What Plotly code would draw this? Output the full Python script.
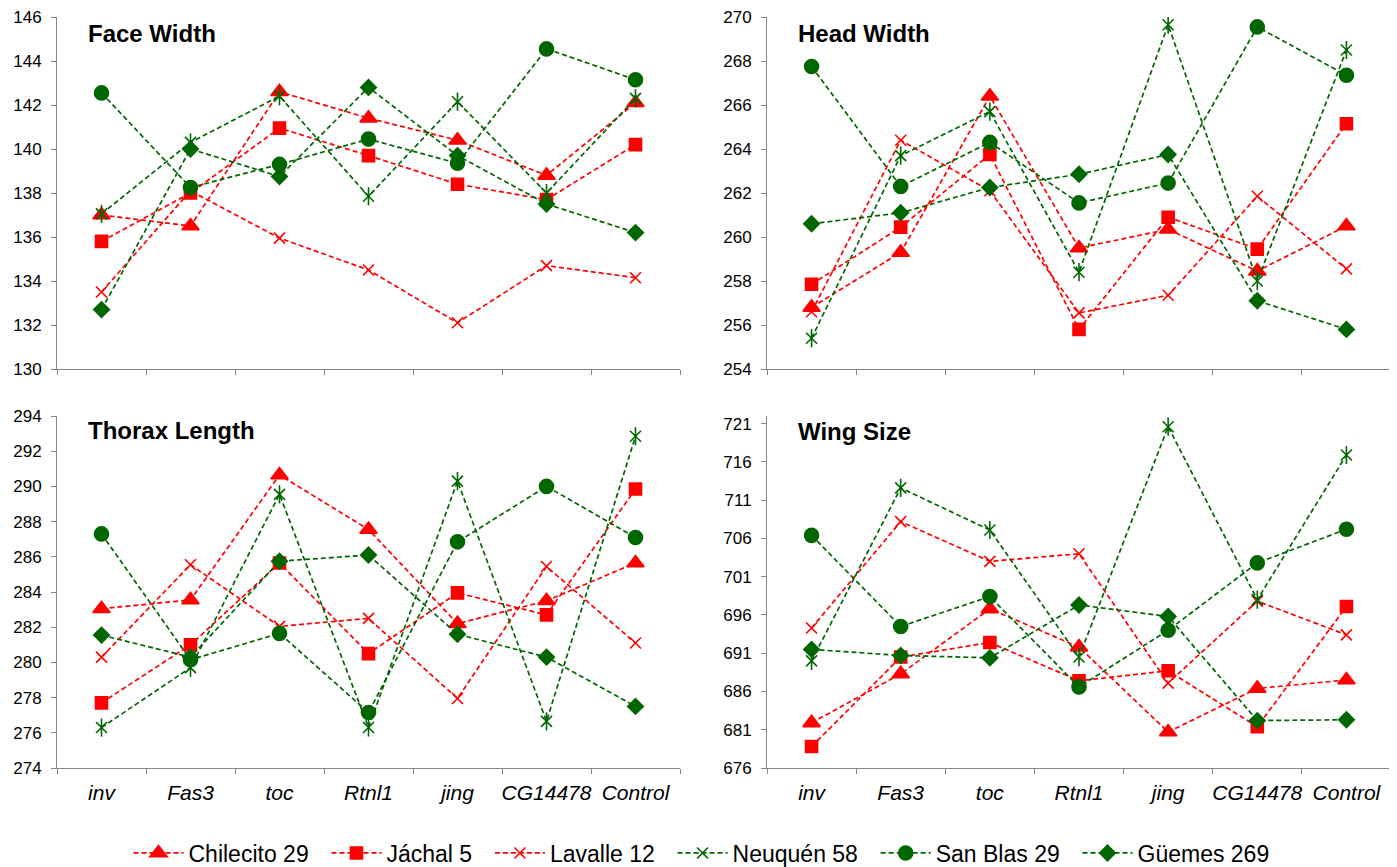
import plotly.graph_objects as go

categories = ["inv", "Fas3", "toc", "Rtnl1", "jing", "CG14478", "Control"]
series_names = ["Chilecito 29", "Jáchal 5", "Lavalle 12", "Neuquén 58", "San Blas 29", "Güemes 269"]

# Face Width
face_chilecito = [137.0, 136.5, 142.6, 141.4, 140.4, 138.8, 142.1]
face_jachal = [135.8, 138.0, 140.95, 139.7, 138.4, 137.7, 140.2]
face_lavalle = [133.5, 138.1, 135.95, 134.5, 132.1, 134.7, 134.15]
face_neuquen = [137.05, 140.3, 142.4, 137.85, 142.15, 138.0, 142.3]
face_sanblas = [142.55, 138.25, 139.3, 140.45, 139.35, 144.55, 143.15]
face_guemes = [132.7, 140.0, 138.75, 142.8, 139.7, 137.5, 136.2]

# Head Width
head_chilecito = [256.8, 259.3, 266.4, 259.5, 260.35, 258.45, 260.5]
head_jachal = [257.85, 260.45, 263.75, 255.8, 260.9, 259.45, 265.15]
head_lavalle = [256.6, 264.4, 262.1, 256.55, 257.35, 261.85, 258.55]
head_neuquen = [255.4, 263.7, 265.7, 258.4, 269.65, 258.0, 268.5]
head_sanblas = [267.75, 262.3, 264.3, 261.55, 262.45, 269.55, 267.35]
head_guemes = [260.6, 261.1, 262.25, 262.85, 263.75, 257.1, 255.8]

# Thorax Length
thorax_chilecito = [283.05, 283.55, 290.65, 287.55, 282.2, 283.5, 285.65]
thorax_jachal = [277.7, 281.0, 285.65, 280.5, 283.95, 282.7, 289.85]
thorax_lavalle = [280.3, 285.55, 282.05, 282.5, 277.95, 285.45, 281.1]
thorax_neuquen = [276.3, 279.7, 289.55, 276.3, 290.3, 276.65, 292.85]
thorax_sanblas = [287.3, 280.15, 281.65, 277.15, 286.85, 290.0, 287.1]
thorax_guemes = [281.55, 280.3, 285.75, 286.1, 281.6, 280.3, 277.5]

# Wing Size
wing_chilecito = [681.9, 688.3, 696.8, 691.8, 680.7, 686.4, 687.5]
wing_jachal = [678.8, 690.5, 692.4, 687.4, 688.7, 681.4, 697.1]
wing_lavalle = [694.3, 708.2, 703.0, 704.0, 687.1, 697.8, 693.4]
wing_neuquen = [690.0, 712.6, 707.1, 690.5, 720.6, 698.0, 716.9]
wing_sanblas = [706.4, 694.5, 698.4, 686.6, 694.0, 702.8, 707.2]
wing_guemes = [691.5, 690.7, 690.4, 697.3, 695.8, 682.2, 682.3]

panel_titles = ["Face Width", "Head Width", "Thorax Length", "Wing Size"]
panels = [
    [face_chilecito, face_jachal, face_lavalle, face_neuquen, face_sanblas, face_guemes],
    [head_chilecito, head_jachal, head_lavalle, head_neuquen, head_sanblas, head_guemes],
    [thorax_chilecito, thorax_jachal, thorax_lavalle, thorax_neuquen, thorax_sanblas, thorax_guemes],
    [wing_chilecito, wing_jachal, wing_lavalle, wing_neuquen, wing_sanblas, wing_guemes],
]
y_ranges = [[130, 146], [254, 270], [274, 294], [676, 722]]
y_ticks0 = [130, 254, 274, 676]
y_dticks = [2, 2, 2, 5]

RED = "#FF0000"
GREEN = "#006600"
styles = [
    dict(color=RED, symbol="triangle-up", size=15),
    dict(color=RED, symbol="square", size=12),
    dict(color=RED, symbol="x-thin-open", size=11),
    dict(color=GREEN, symbol="x-thin-open", size=11),
    dict(color=GREEN, symbol="circle", size=14),
    dict(color=GREEN, symbol="diamond", size=12),
]

FONT = "Arial, Liberation Sans, sans-serif"
# page body has an 8px margin; the figure is sized to fill the rest of the window
OFF = 8
W, H = 1397 - OFF, 867 - OFF


def fx(px):
    return (px - OFF) / W


def fy(py):
    return 1 - (py - OFF) / H


xdom = [[fx(57), fx(680)], [fx(767), fx(1391)]]
ydom = [[fy(369), fy(17)], [fy(768), fy(416)]]

fig = go.Figure()

for p in range(4):
    ax = "" if p == 0 else str(p + 1)
    xref, yref = "x" + ax, "y" + ax
    for s, name in enumerate(series_names):
        st = styles[s]
        marker = dict(color=st["color"], symbol=st["symbol"], size=st["size"],
                      line=dict(color=st["color"], width=1.6))
        fig.add_trace(go.Scatter(
            x=categories, y=panels[p][s], name=name + "\u00a0\u00a0", mode="lines+markers",
            line=dict(color=st["color"], width=1.7, dash="5px,3px"),
            marker=marker, xaxis=xref, yaxis=yref,
            legendgroup=name, showlegend=(p == 0),
        ))
        if name == "Neuquén 58":
            fig.add_trace(go.Scatter(
                x=categories, y=panels[p][s], mode="markers",
                marker=dict(color=GREEN, symbol="line-ns-open", size=13,
                            line=dict(color=GREEN, width=1.6)),
                xaxis=xref, yaxis=yref, legendgroup=name, showlegend=False,
                hoverinfo="skip",
            ))

axis_common = dict(showline=True, linecolor="#868686", linewidth=1, showgrid=False,
                   zeroline=False, ticks="outside", ticklen=5, tickcolor="#868686",
                   tickwidth=1, automargin=False, ticklabeloverflow="allow")

layout = dict(
    width=W, height=H, margin=dict(l=0, r=0, t=0, b=0, autoexpand=False),
    plot_bgcolor="white", paper_bgcolor="white",
    font=dict(family=FONT, color="black"),
    showlegend=True,
    legend=dict(orientation="h", x=fx(708), xanchor="center", y=fy(853), yanchor="middle",
                font=dict(family=FONT, size=23, color="black"), itemwidth=50,
                traceorder="normal"),
)

annotations = []
title_py = [34, 34, 430, 431]
for p in range(4):
    ax = "" if p == 0 else str(p + 1)
    col, row = p % 2, p // 2
    layout["xaxis" + ax] = dict(
        axis_common, domain=xdom[col], anchor="y" + ax, type="category",
        categoryorder="array", categoryarray=categories, range=[-0.5, 6.5],
        tickson="boundaries", showticklabels=(row == 1), tickangle=0,
        tickfont=dict(family=FONT, size=21, color="black"), ticklabelstandoff=6,
    )
    layout["yaxis" + ax] = dict(
        axis_common, domain=ydom[row], anchor="x" + ax, range=y_ranges[p],
        tick0=y_ticks0[p], dtick=y_dticks[p],
        tickfont=dict(family=FONT, size=17, color="black"), ticklabelstandoff=6,
    )
    annotations.append(dict(
        text="<b>" + panel_titles[p] + "</b>", xref="paper", yref="paper",
        x=fx([57, 767][col] + 29), y=fy(title_py[p]), xanchor="left", yanchor="middle",
        showarrow=False, font=dict(family=FONT, size=24, color="black"),
    ))

# italic category labels for bottom panels
for ax in ["xaxis3", "xaxis4"]:
    layout[ax]["ticktext"] = ["<i>" + c + "</i>" for c in categories]
    layout[ax]["tickvals"] = categories

layout["annotations"] = annotations
fig.update_layout(**layout)
fig.write_html("out.html")
